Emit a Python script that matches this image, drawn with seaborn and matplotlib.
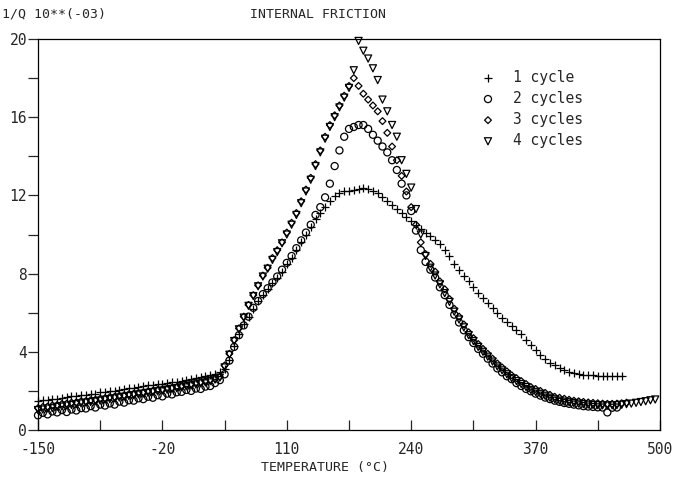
import numpy as np
import pandas as pd
import matplotlib
matplotlib.use("Agg")
from matplotlib import pyplot as plt
import seaborn as sns

nan = np.nan

# temperatures (deg C), one reading every 5 deg
temp = [-150, -145, -140, -135, -130, -125, -120, -115, -110, -105,
        -100, -95, -90, -85, -80, -75, -70, -65, -60, -55,
        -50, -45, -40, -35, -30, -25, -20, -15, -10, -5,
        0, 5, 10, 15, 20, 25, 30, 35, 40, 45,
        50, 55, 60, 65, 70, 75, 80, 85, 90, 95,
        100, 105, 110, 115, 120, 125, 130, 135, 140, 145,
        150, 155, 160, 165, 170, 175, 180, 185, 190, 195,
        200, 205, 210, 215, 220, 225, 230, 235, 240, 245,
        250, 255, 260, 265, 270, 275, 280, 285, 290, 295,
        300, 305, 310, 315, 320, 325, 330, 335, 340, 345,
        350, 355, 360, 365, 370, 375, 380, 385, 390, 395,
        400, 405, 410, 415, 420, 425, 430, 435, 440, 445,
        450, 455, 460, 465, 470, 475, 480, 485, 490, 495]

# internal friction 1/Q (x 1e-3)
cycle1 = [1.48, 1.54, 1.55, 1.60, 1.61, 1.66, 1.67, 1.72, 1.73, 1.78,
          1.79, 1.85, 1.86, 1.92, 1.94, 1.99, 2.01, 2.07, 2.08, 2.14,
          2.16, 2.21, 2.23, 2.28, 2.29, 2.35, 2.36, 2.41, 2.43, 2.48,
          2.50, 2.55, 2.60, 2.65, 2.70, 2.75, 2.80, 2.87, 2.95, 3.10,
          3.60, 4.30, 4.90, 5.40, 5.80, 6.20, 6.60, 6.90, 7.20, 7.50,
          7.80, 8.10, 8.50, 8.80, 9.20, 9.60, 10.0, 10.4, 10.8, 11.1,
          11.4, 11.7, 11.95, 12.1, 12.2, 12.25, 12.3, 12.35, 12.4, 12.35,
          12.25, 12.1, 11.9, 11.7, 11.5, 11.3, 11.1, 10.9, 10.7, 10.5,
          10.3, 10.1, 9.90, 9.70, 9.50, 9.20, 8.90, 8.50, 8.20, 7.90,
          7.60, 7.30, 7.00, 6.75, 6.50, 6.25, 6.00, 5.75, 5.50, 5.30,
          5.10, 4.90, 4.60, 4.35, 4.10, 3.85, 3.65, 3.45, 3.30, 3.15,
          3.05, 2.95, 2.90, 2.85, 2.82, 2.80, 2.80, 2.78, 2.78, 2.77,
          2.77, 2.76, 2.76, nan, nan, nan, nan, nan, nan, nan]

cycle2 = [0.75, 0.88, 0.80, 0.95, 0.90, 1.02, 0.92, 1.05, 1.00, 1.12,
          1.10, 1.22, 1.15, 1.30, 1.25, 1.36, 1.30, 1.45, 1.40, 1.52,
          1.50, 1.62, 1.58, 1.70, 1.65, 1.78, 1.72, 1.86, 1.82, 1.93,
          1.95, 2.05, 2.00, 2.12, 2.10, 2.22, 2.25, 2.40, 2.55, 2.85,
          3.55, 4.25, 4.85, 5.35, 5.80, 6.25, 6.60, 6.95, 7.25, 7.55,
          7.85, 8.20, 8.55, 8.90, 9.30, 9.70, 10.1, 10.5, 11.0, 11.4,
          11.9, 12.6, 13.5, 14.3, 15.0, 15.4, 15.5, 15.6, 15.6, 15.4,
          15.1, 14.8, 14.5, 14.2, 13.8, 13.3, 12.6, 12.0, 11.2, 10.2,
          9.20, 8.60, 8.20, 7.80, 7.30, 6.90, 6.40, 5.90, 5.50, 5.10,
          4.75, 4.45, 4.15, 3.90, 3.65, 3.40, 3.15, 2.95, 2.75, 2.60,
          2.40, 2.25, 2.10, 1.98, 1.86, 1.76, 1.66, 1.58, 1.50, 1.44,
          1.38, 1.34, 1.30, 1.26, 1.22, 1.20, 1.18, 1.16, 1.15, 0.90,
          1.14, 1.15, nan, nan, nan, nan, nan, nan, nan, nan]

cycle3 = [1.12, 1.18, 1.20, 1.26, 1.28, 1.33, 1.35, 1.40, 1.42, 1.47,
          1.48, 1.52, 1.55, 1.60, 1.63, 1.68, 1.70, 1.75, 1.78, 1.83,
          1.86, 1.90, 1.93, 1.98, 2.01, 2.05, 2.08, 2.13, 2.16, 2.20,
          2.25, 2.30, 2.35, 2.40, 2.45, 2.50, 2.55, 2.62, 2.72, 3.30,
          3.90, 4.60, 5.20, 5.80, 6.40, 6.90, 7.40, 7.90, 8.30, 8.80,
          9.20, 9.60, 10.1, 10.6, 11.1, 11.7, 12.3, 12.9, 13.6, 14.3,
          15.0, 15.6, 16.1, 16.6, 17.1, 17.6, 18.0, 17.6, 17.2, 16.9,
          16.6, 16.3, 15.8, 15.2, 14.5, 13.8, 13.0, 12.2, 11.4, 10.5,
          9.60, 9.00, 8.50, 8.10, 7.60, 7.20, 6.70, 6.20, 5.80, 5.40,
          5.00, 4.70, 4.40, 4.15, 3.90, 3.65, 3.40, 3.20, 3.00, 2.80,
          2.65, 2.50, 2.35, 2.20, 2.10, 2.00, 1.90, 1.80, 1.70, 1.65,
          1.60, 1.55, 1.50, 1.47, 1.44, 1.41, 1.39, 1.37, 1.35, 1.34,
          1.34, 1.35, 1.37, 1.40, nan, nan, nan, nan, nan, nan]

cycle4 = [1.02, 1.05, 1.10, 1.12, 1.18, 1.20, 1.25, 1.28, 1.32, 1.36,
          1.40, 1.43, 1.47, 1.50, 1.55, 1.58, 1.62, 1.66, 1.70, 1.74,
          1.78, 1.82, 1.86, 1.90, 1.94, 1.98, 2.02, 2.06, 2.10, 2.14,
          2.18, 2.23, 2.28, 2.33, 2.38, 2.43, 2.50, 2.58, 2.68, 3.20,
          3.85, 4.55, 5.15, 5.75, 6.35, 6.85, 7.35, 7.85, 8.25, 8.70,
          9.10, 9.55, 10.0, 10.5, 11.0, 11.6, 12.2, 12.8, 13.5, 14.2,
          14.9, 15.5, 16.0, 16.5, 17.0, 17.5, 18.4, 19.9, 19.4, 19.0,
          18.5, 17.9, 16.9, 16.3, 15.6, 15.0, 13.8, 13.1, 12.4, 11.3,
          10.0, 8.90, 8.30, 7.90, 7.45, 7.00, 6.55, 6.05, 5.65, 5.25,
          4.85, 4.55, 4.25, 4.00, 3.75, 3.50, 3.25, 3.05, 2.85, 2.65,
          2.50, 2.35, 2.20, 2.05, 1.95, 1.85, 1.75, 1.65, 1.57, 1.50,
          1.45, 1.42, 1.38, 1.35, 1.32, 1.30, 1.28, 1.27, 1.26, 1.25,
          1.26, 1.27, 1.29, 1.32, 1.35, 1.39, 1.43, 1.47, 1.52, 1.56]

labels = ["1 cycle", "2 cycles", "3 cycles", "4 cycles"]
markers = ["+", "o", "D", "v"]
sizes = [40, 26, 12, 26]
faces = ["black", "none", "none", "none"]

x_ticks = [-150, -20, 110, 240, 370, 500]
x_minor = [-85, 45, 175, 305, 435]
y_ticks = [0, 4, 8, 12, 16, 20]
y_minor = [2, 6, 10, 14, 18]

df = pd.DataFrame({
    "temp": temp * 4,
    "q": cycle1 + cycle2 + cycle3 + cycle4,
    "run": [l for l in labels for _ in temp],
}).dropna()

sns.set_style("ticks")
plt.rcParams["font.family"] = ["DejaVu Sans Mono", "DejaVu Sans"]
plt.rcParams["axes.unicode_minus"] = False

fig = plt.figure(figsize=(6.85, 4.84), dpi=100)
ax = fig.add_axes([38 / 685, 1 - 430 / 484, 622 / 685, 391 / 484])

for lab, m, s, fc in zip(labels, markers, sizes, faces):
    sub = df[df["run"] == lab]
    sns.scatterplot(x=sub["temp"], y=sub["q"], marker=m, s=s, ax=ax,
                    facecolor=fc, edgecolor="black", linewidth=0.9,
                    label=lab, clip_on=False)

ax.set_xlim(-150, 500)
ax.set_ylim(0, 20)
ax.set_xticks(x_ticks)
ax.set_xticks(x_minor, minor=True)
ax.set_yticks(y_ticks)
ax.set_yticks(y_minor, minor=True)
ax.set_xticklabels([str(t) for t in x_ticks])
ax.set_yticklabels([str(t) for t in y_ticks])
ax.tick_params(axis="x", which="both", direction="in", length=7, width=0.9,
               pad=9, labelsize=10.5, top=False)
ax.tick_params(axis="y", which="both", direction="out", length=7, width=0.9,
               pad=1, labelsize=10.5, right=False)
ax.set_xlabel("")
ax.set_ylabel("")
for sp in ax.spines.values():
    sp.set_linewidth(0.9)
    sp.set_color("black")

leg = ax.legend(loc="upper left", bbox_to_anchor=(0.7, 0.94), frameon=False,
                fontsize=10.5, handlelength=1.0, handletextpad=1.2,
                labelspacing=0.42, borderpad=0)

fig.text(2 / 685, 1 - 14 / 484, "1/Q 10**(-03)", ha="left", va="center", fontsize=9.5)
fig.text(318 / 685, 1 - 14 / 484, "INTERNAL FRICTION", ha="center", va="center", fontsize=9.5)
fig.text(325 / 685, 1 - 467 / 484, "TEMPERATURE (\u00b0C)", ha="center", va="center", fontsize=9.5)

fig.savefig("out.png", dpi=100)
